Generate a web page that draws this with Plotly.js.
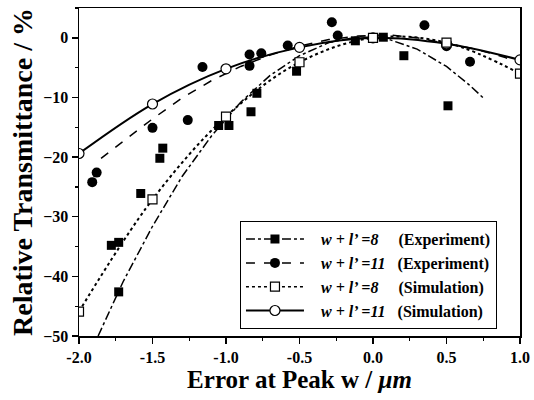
<!DOCTYPE html>
<html>
<head>
<meta charset="utf-8">
<script src="https://cdn.plot.ly/plotly-3.0.1.min.js"></script>
<style>html,body{margin:0;padding:0;background:#fff;}#chart{width:534px;height:400px;}</style>
</head>
<body>
<div id="chart"></div>
<script>
// Experiment, w + l' = 8 (filled squares)
const exp8X = [-1.78, -1.73, -1.73, -1.58, -1.45, -1.43, -1.05, -0.98, -0.83, -0.79, -0.52, -0.12, 0.07, 0.21, 0.51];
const exp8Y = [-34.8, -34.3, -42.6, -26.1, -20.2, -18.5, -14.7, -14.7, -12.4, -9.3, -5.6, -0.5, 0.1, -3.0, -11.4];
// Experiment, w + l' = 11 (filled circles)
const exp11X = [-1.91, -1.88, -1.50, -1.26, -1.16, -0.84, -0.84, -0.76, -0.58, -0.28, -0.24, 0.35, 0.50, 0.66];
const exp11Y = [-24.2, -22.6, -15.1, -13.8, -4.9, -2.8, -4.7, -2.6, -1.3, 2.6, 0.4, 2.1, -1.4, -4.0];
// Fitted curves
const fit8X = [-1.87, -1.7, -1.5, -1.3, -1.1, -0.9, -0.7, -0.5, -0.3, -0.1, 0.1, 0.3, 0.5, 0.65, 0.76];
const fit8Y = [-50.0, -40.9, -31.6, -23.3, -16.5, -10.8, -6.3, -3.0, -0.8, 0.2, -0.2, -1.9, -4.8, -7.8, -10.3];
const fit11X = [-1.85, -1.7, -1.5, -1.3, -1.1, -0.9, -0.7, -0.5, -0.3, -0.1, 0.1, 0.3, 0.5, 0.7, 0.9, 1.0];
const fit11Y = [-20.2, -17.4, -13.6, -10.1, -7.2, -4.8, -2.9, -1.4, -0.3, 0.3, 0.5, 0.0, -0.9, -1.9, -3.3, -4.2];
// Simulation
const simX = [-2.0, -1.5, -1.0, -0.5, 0.0, 0.5, 1.0];
const sim8Y = [-45.9, -27.1, -13.2, -4.1, 0.0, -0.8, -6.0];
const sim11Y = [-19.4, -11.1, -5.2, -1.6, 0.0, -1.0, -3.7];
// Legend labels
const sp = '\u00a0';
const labels = [
  sp.repeat(3) + '<i>w + l\u2019 =8</i>' + sp.repeat(5) + '(Experiment)',
  sp.repeat(3) + '<i>w + l\u2019 =11</i>' + sp.repeat(3) + '(Experiment)',
  sp.repeat(3) + '<i>w + l\u2019 =8</i>' + sp.repeat(5) + '(Simulation)',
  sp.repeat(3) + '<i>w + l\u2019 =11</i>' + sp.repeat(3) + '(Simulation)'
];
const xTicks = [-2.0, -1.5, -1.0, -0.5, 0.0, 0.5, 1.0];
const xTickText = ['-2.0', '-1.5', '-1.0', '-0.5', '0.0', '0.5', '1.0'];
const yTicks = [0, -10, -20, -30, -40, -50];

const serif = 'Liberation Serif, Times New Roman, serif';
const sqFill = {symbol: 'square', size: 9, color: '#000'};
const ciFill = {symbol: 'circle', size: 10, color: '#000'};
const sqOpen = {symbol: 'square', size: 9, color: '#fff', line: {color: '#000', width: 1.2}};
const ciOpen = {symbol: 'circle', size: 10, color: '#fff', line: {color: '#000', width: 1.2}};
const lDashDot = {color: '#000', width: 1.5, dash: 'dashdot'};
const lDash = {color: '#000', width: 1.5, dash: 'dash'};
const lDot = {color: '#000', width: 2, dash: 'dot', shape: 'spline'};
const lSolid = {color: '#000', width: 2, shape: 'spline'};

const traces = [
  {x: fit8X, y: fit8Y, mode: 'lines', line: lDashDot, showlegend: false},
  {x: fit11X, y: fit11Y, mode: 'lines', line: lDash, showlegend: false},
  {x: exp8X, y: exp8Y, mode: 'markers', marker: sqFill, showlegend: false},
  {x: exp11X, y: exp11Y, mode: 'markers', marker: ciFill, showlegend: false},
  {x: simX, y: sim11Y, mode: 'lines+markers', line: lSolid, marker: ciOpen, showlegend: false},
  {x: simX, y: sim8Y, mode: 'lines+markers', line: lDot, marker: sqOpen, showlegend: false},
  // legend entries
  {x: [null], y: [null], mode: 'lines+markers', line: lDashDot, marker: sqFill, name: labels[0]},
  {x: [null], y: [null], mode: 'lines+markers', line: lDash, marker: ciFill, name: labels[1]},
  {x: [null], y: [null], mode: 'lines+markers', line: {color: '#000', width: 1.5, dash: 'dot'}, marker: sqOpen, name: labels[2]},
  {x: [null], y: [null], mode: 'lines+markers', line: {color: '#000', width: 2}, marker: ciOpen, name: labels[3]}
];

const axisCommon = {
  showgrid: false, zeroline: false, showline: true, mirror: true,
  linecolor: '#000', linewidth: 1.5, ticks: 'outside', ticklen: 6, tickwidth: 1.5, tickcolor: '#000',
  tickfont: {family: serif, size: 16, color: '#000', weight: 'bold'}
};

const layout = {
  width: 534, height: 400,
  margin: {l: 79, r: 14, t: 8, b: 64},
  paper_bgcolor: '#fff', plot_bgcolor: '#fff',
  showlegend: true,
  xaxis: Object.assign({}, axisCommon, {
    range: [-2, 1], tickvals: xTicks, ticktext: xTickText,
    minor: {dtick: 0.25, ticks: 'outside', ticklen: 3, tickwidth: 1.2, tickcolor: '#000'},
    title: {text: 'Error at Peak w / <i>\u03bcm</i>', font: {family: serif, size: 25, color: '#000', weight: 'bold'}, standoff: 4}
  }),
  yaxis: Object.assign({}, axisCommon, {
    range: [-50, 5], tickvals: yTicks,
    minor: {dtick: 5, ticks: 'outside', ticklen: 3, tickwidth: 1.2, tickcolor: '#000'},
    title: {text: 'Relative Transmittance / %', font: {family: serif, size: 28, color: '#000', weight: 'bold'}, standoff: 2}
  }),
  legend: {
    x: 0.365, y: 0.35, xanchor: 'left', yanchor: 'top',
    bgcolor: '#fff', bordercolor: '#000', borderwidth: 1,
    font: {family: serif, size: 16, color: '#000', weight: 'bold'},
    itemwidth: 58, tracegroupgap: 0, traceorder: 'normal'
  }
};

Plotly.newPlot('chart', traces, layout, {displayModeBar: false, staticPlot: true});
</script>
</body>
</html>
